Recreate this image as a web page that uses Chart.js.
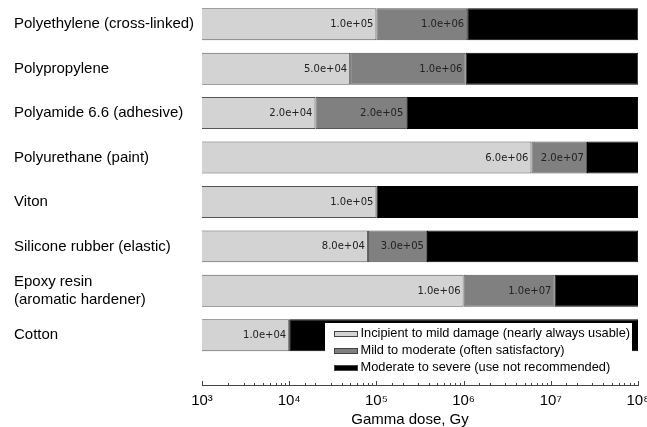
<!DOCTYPE html>
<html><head><meta charset="utf-8">
<script src="https://cdn.jsdelivr.net/npm/chart.js@4/dist/chart.umd.min.js"></script>
<style>html,body{margin:0;padding:0;background:#fff}canvas{display:block}</style>
</head><body>
<canvas id="c" width="647" height="427"></canvas>
<script>
const CATEGORIES = ['Polyethylene (cross-linked)', 'Polypropylene', 'Polyamide 6.6 (adhesive)', 'Polyurethane (paint)', 'Viton', 'Silicone rubber (elastic)', 'Epoxy resin\n(aromatic hardener)', 'Cotton'];
const INCIPIENT = [1e5, 5e4, 2e4, 6e6, 1e5, 8e4, 1e6, 1e4];
const MODERATE  = [1e6, 1e6, 2e5, 2e7, null, 3e5, 1e7, null];
const SEVERE    = [1e8, 1e8, 1e8, 1e8, 1e8, 1e8, 1e8, 1e8];
const SERIES_NAMES = ['Incipient to mild damage (nearly always usable)', 'Mild to moderate (often satisfactory)', 'Moderate to severe (use not recommended)'];
const SERIES_COLORS = ['#d3d3d3', '#808080', '#000000'];
const X_MIN = 1e3, X_MAX = 1e8;
const X_TITLE = 'Gamma dose, Gy';

const SUP = {'0':'\u2070','1':'\u00b9','2':'\u00b2','3':'\u00b3','4':'\u2074','5':'\u2075','6':'\u2076','7':'\u2077','8':'\u2078','9':'\u2079','-':'\u207b'};
function isDecade(v){ const l = Math.log10(v); return Math.abs(l - Math.round(l)) < 1e-9; }
function fmt(v){
  const e = Math.floor(Math.log10(v) + 1e-9);
  const m = v / Math.pow(10, e);
  return m.toFixed(1) + 'e' + (e < 0 ? '-' : '+') + String(Math.abs(e)).padStart(2, '0');
}
const SERIES = [INCIPIENT, MODERATE, SEVERE];

const overlay = {
  id: 'overlay',
  afterDatasetsDraw(chart) {
    const ctx = chart.ctx;
    ctx.save();
    ctx.font = '10px "DejaVu Sans"';
    ctx.fillStyle = '#222';
    ctx.textAlign = 'right';
    ctx.textBaseline = 'middle';
    [0, 1].forEach(di => {
      const meta = chart.getDatasetMeta(di);
      const ds = chart.data.datasets[di];
      meta.data.forEach((el, i) => {
        const v = ds.data[i].x;
        if (v == null) return;
        ctx.fillText(fmt(v), el.x - 3, el.y + 0.5);
      });
    });
    const xs = chart.scales.x;
    const yb = chart.chartArea.bottom;
    ctx.strokeStyle = '#444';
    ctx.lineWidth = 1;
    xs.ticks.forEach(t => {
      const px = Math.round(xs.getPixelForValue(t.value)) + 0.5;
      const len = isDecade(t.value) ? 4 : 2;
      ctx.beginPath(); ctx.moveTo(px, yb); ctx.lineTo(px, yb - len); ctx.stroke();
    });
    ctx.restore();
  },
  afterDraw(chart) {
    const ctx = chart.ctx;
    const ca = chart.chartArea;
    ctx.save();
    const left = ca.right - 313, right = ca.right - 6, top = ca.bottom - 62, bottom = ca.bottom - 7;
    ctx.fillStyle = '#fff';
    ctx.fillRect(left, top, right - left, bottom - top);
    ctx.font = '12.8px "Liberation Sans", Arial, sans-serif';
    ctx.textAlign = 'left';
    ctx.textBaseline = 'middle';
    chart.data.datasets.forEach((ds, i) => {
      const cy = top + 10.5 + i * 17;
      ctx.fillStyle = ds.backgroundColor;
      ctx.fillRect(left + 9, Math.round(cy - 3), 24, 6);
      ctx.strokeStyle = '#444';
      ctx.lineWidth = 1;
      ctx.strokeRect(left + 9.5, Math.round(cy - 3) + 0.5, 23, 5);
      ctx.fillStyle = '#000';
      ctx.fillText(ds.label, left + 35.5, cy);
    });
    ctx.font = '15px "Liberation Sans", Arial, sans-serif';
    ctx.textAlign = 'center';
    ctx.fillStyle = '#000';
    ctx.fillText(X_TITLE, (ca.left + ca.right) / 2 - 10, 420);
    ctx.restore();
  }
};

const datasets = SERIES.map((arr, si) => ({
  label: SERIES_NAMES[si],
  data: arr.map((v, i) => ({ x: v, y: i })),
  backgroundColor: SERIES_COLORS[si],
  borderColor: si === 2 ? '#000' : '#555',
  borderWidth: 1,
  borderSkipped: si === 0 ? 'left' : false,
  grouped: false,
  maxBarThickness: 32,
  clip: 0
}));

new Chart(document.getElementById('c'), {
  type: 'bar',
  data: { datasets },
  options: {
    indexAxis: 'y',
    responsive: false,
    animation: false,
    layout: { padding: { left: 14, right: 9, top: 2, bottom: 0 } },
    plugins: { legend: { display: false }, tooltip: { enabled: false } },
    scales: {
      x: {
        type: 'logarithmic',
        stacked: true,
        min: X_MIN, max: X_MAX,
        grid: { display: false, drawTicks: false },
        border: { display: true, color: '#444', width: 1 },
        ticks: {
          autoSkip: false, maxRotation: 0, padding: 7,
          color: '#000',
          font: { family: '"Liberation Sans", Arial, sans-serif', size: 15 },
          callback: (v) => isDecade(v) ? '10' + String(Math.round(Math.log10(v))).split('').map(c => SUP[c]).join('') : ''
        },
        afterFit: (s) => { s.height = 42; s.paddingLeft = 0; s.paddingRight = 0; }
      },
      y: {
        type: 'linear',
        reverse: true,
        offset: false,
        bounds: 'data',
        grace: 0,
        min: -0.5, max: 8.12,
        grid: { display: false, drawTicks: false },
        border: { display: false },
        afterBuildTicks: (s) => { s.ticks = CATEGORIES.map((_, i) => ({ value: i })); },
        ticks: {
          autoSkip: false,
          crossAlign: 'far',
          color: '#000',
          font: { family: '"Liberation Sans", Arial, sans-serif', size: 15, lineHeight: 1.18 },
          callback: (v) => { const c = CATEGORIES[v]; return c === undefined ? '' : c.split('\n'); }
        },
        afterFit: (s) => { s.width = 188; s.paddingTop = 0; s.paddingBottom = 0; }
      }
    }
  },
  plugins: [overlay]
});
</script>
</body></html>
